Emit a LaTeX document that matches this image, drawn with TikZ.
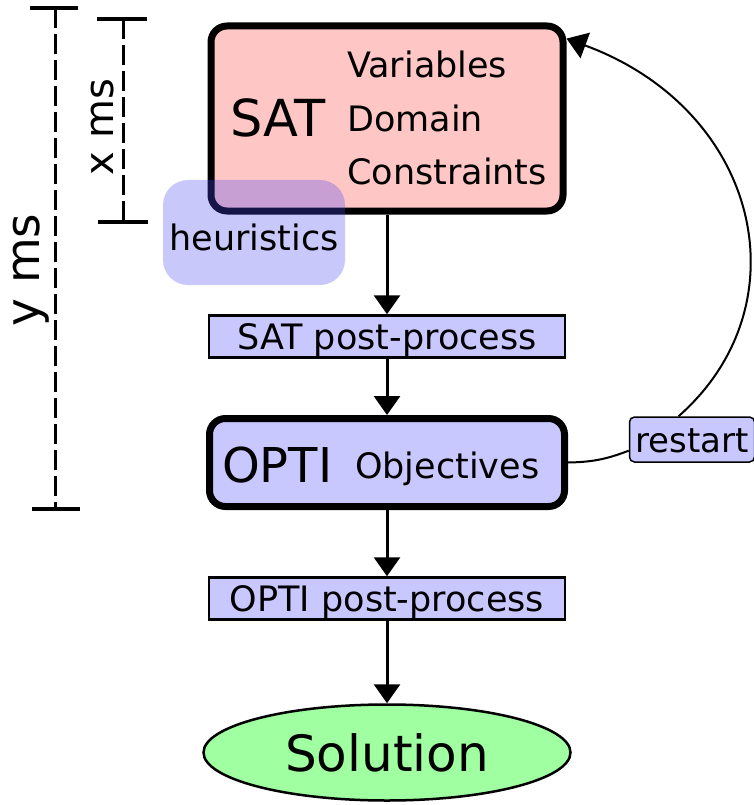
\documentclass[tikz,border=0pt]{standalone}
\usepackage{fontspec}
\setmainfont{DejaVu Sans}
\usepackage{xcolor}
\usepackage{tikz}
\usetikzlibrary{shapes.geometric,arrows.meta,calc}

\definecolor{satpink}{RGB}{255,198,198}
\definecolor{optiblue}{RGB}{200,200,255}
\definecolor{heurblue}{RGB}{72,72,240}
\definecolor{solgreen}{RGB}{160,255,160}

\begin{document}
\begin{tikzpicture}[
        x=1pt, y=-1pt,
        bigbox/.style={draw, line width=7pt, rounded corners=16pt, inner sep=0pt},
        postbox/.style={draw, line width=2.5pt, fill=optiblue, minimum width=356pt, minimum height=42pt,
            inner sep=0pt, font=\fontsize{35}{42}\selectfont, text height=25pt, text depth=0pt},
        plain/.style={anchor=base west, inner sep=0pt},
        flow/.style={line width=3pt, -{Triangle[length=19pt,width=26pt]}},
        loopline/.style={line width=2pt},
        dimbar/.style={line width=3pt, dash pattern=on 20pt off 6pt},
        dimcap/.style={line width=4pt}
    ]
    \useasboundingbox (0,0) rectangle (753,805);

    % time bars
    \coordinate (ytop) at (55,8);
    \coordinate (ybot) at (55,509);
    \coordinate (xtop) at (123,19);
    \coordinate (xbot) at (123,222);
    \draw[dimbar] (ytop) -- (ybot);
    \draw[dimcap] ([xshift=-25pt]ytop) -- ([xshift=23pt]ytop);
    \draw[dimcap] ([xshift=-23pt]ybot) -- ([xshift=25pt]ybot);
    \draw[dimbar] (xtop) -- (xbot);
    \draw[dimcap] ([xshift=-26pt]xtop) -- ([xshift=24pt]xtop);
    \draw[dimcap] ([xshift=-25pt]xbot) -- ([xshift=25pt]xbot);
    \node[rotate=90, anchor=base, inner sep=0pt, font=\fontsize{47}{56}\selectfont] (ylabel) at (39,270) {y ms};
    \node[rotate=90, anchor=base, inner sep=0pt, font=\fontsize{40}{48}\selectfont] (xlabel) at (113,127) {x ms};

    % SAT
    \node[bigbox, fill=satpink, minimum width=352pt, minimum height=185pt] (sat) at (387,118.5) {};
    \node[plain, font=\fontsize{51}{60}\selectfont] (sattitle) at (230,137) {SAT};
    \node[plain, font=\fontsize{35}{42}\selectfont] (satvar) at (347,78) {Variables};
    \node[plain, font=\fontsize{35}{42}\selectfont] (satdom) at (347,132) {Domain};
    \node[plain, font=\fontsize{35}{42}\selectfont] (satcon) at (347,185) {Constraints};
    \node[fill=heurblue, fill opacity=0.3, text opacity=1, rounded corners=25pt, inner sep=0pt,
        minimum width=182pt, minimum height=105pt, font=\fontsize{35}{42}\selectfont,
        text height=35pt, text depth=0pt] (heur) at (254,232.5) {heuristics};

    \node[postbox] (postsat) at (387,336.5) {SAT post-process};

    % OPTI
    \node[bigbox, fill=optiblue, minimum width=355pt, minimum height=88pt] (opti) at (387,462.5) {};
    \node[plain, font=\fontsize{48}{58}\selectfont] (optititle) at (222,482) {OPTI};
    \node[plain, font=\fontsize{35}{42}\selectfont] (optiobj) at (355,478) {Objectives};

    \node[postbox] (postopti) at (387,598.5) {OPTI post-process};

    \node[ellipse, draw, line width=2.5pt, fill=solgreen, inner sep=0pt, minimum width=367pt, minimum height=96pt,
        font=\fontsize{50}{60}\selectfont, text height=38pt, text depth=0pt] (sol) at (387,752.5) {Solution};

    \node[draw, line width=1.5pt, fill=optiblue, rounded corners=5pt, inner sep=0pt, minimum width=125pt,
        minimum height=45pt, font=\fontsize{34}{40}\selectfont, text height=25pt, text depth=0pt] (restart) at (692,439.5) {restart};

    \draw[flow] (sat.south) -- (postsat.north);
    \draw[flow] (postsat.south) -- (opti.north);
    \draw[flow] (opti.south) -- (postopti.north);
    \draw[flow] (postopti.south) -- (sol.north);

    \draw[loopline] (opti.east) to[bend right=10] (restart.190);
    \draw[loopline, -{Triangle[length=20pt,width=27pt]}] (restart.120) .. controls (805,305) and (760,110) .. (sat.24);
\end{tikzpicture}
\end{document}
